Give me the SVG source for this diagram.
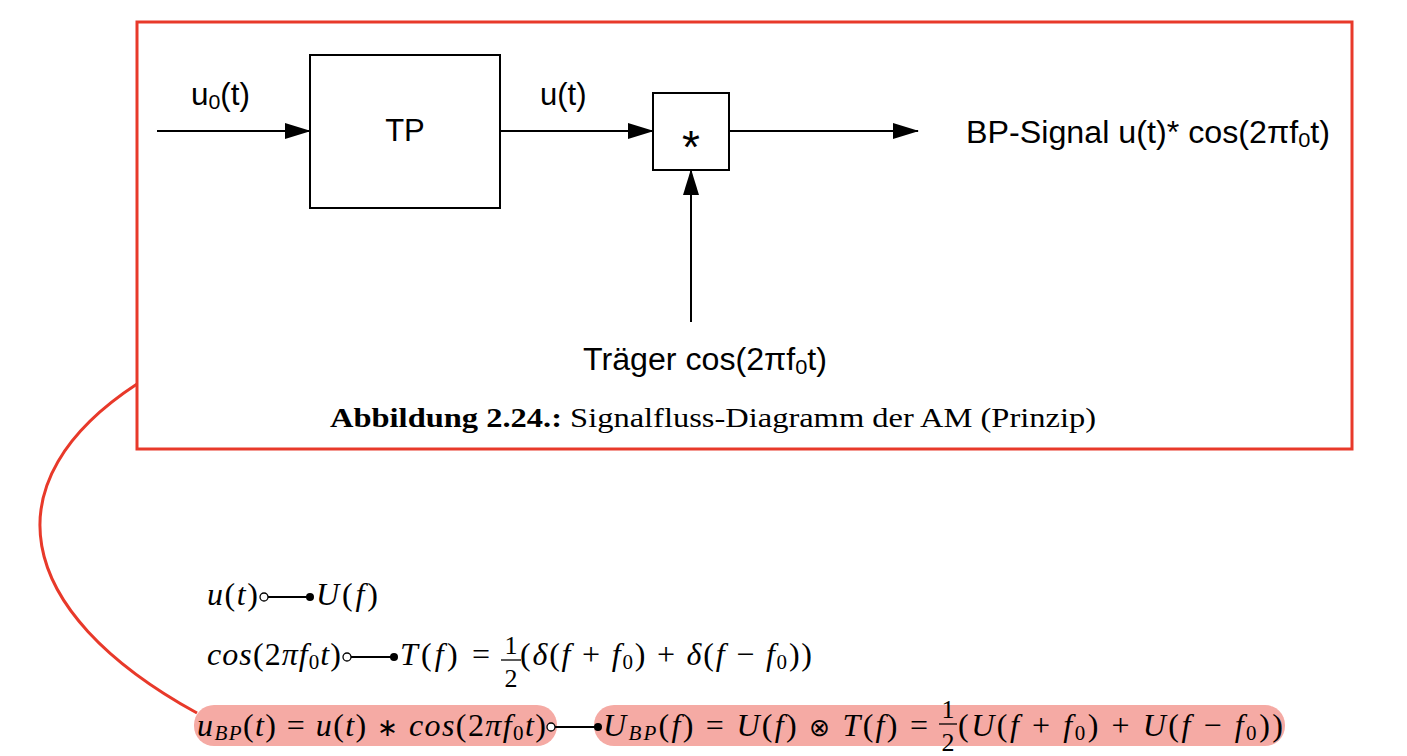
<svg xmlns="http://www.w3.org/2000/svg" width="1407" height="756" viewBox="0 0 1407 756">
<defs>
<marker id="ah" markerWidth="26" markerHeight="16" refX="25" refY="8" orient="auto" markerUnits="userSpaceOnUse">
<path d="M0,0 L26,8 L0,16 Z" fill="#000"/>
</marker>
<style>
.blk{fill:#fff;stroke:#000;stroke-width:2}
.wire{stroke:#000;stroke-width:2;fill:none}
.lab{font-family:"Liberation Sans",Arial,sans-serif;font-size:31px;fill:#000}
.star{font-family:"Liberation Sans",Arial,sans-serif;font-size:46px;fill:#000}
.cap{font-family:"Liberation Serif","Times New Roman",serif;font-size:27px;fill:#000}
.m{font-family:"Liberation Serif","Times New Roman",serif;font-size:32px;fill:#000}
.fr{font-family:"Liberation Serif","Times New Roman",serif;font-size:26px;fill:#000}
.i{font-style:italic}
.sub{font-size:21px}
.op{font-size:25px}
.red{stroke:#e8392a;stroke-width:3;fill:none}
.pill{fill:#f5aaa4}
.oc{fill:#fff;stroke:#000;stroke-width:1.3}
.fc{fill:#000}
</style>
</defs>
<rect width="1407" height="756" fill="#fff"/>
<g id="frame">
<rect x="137" y="22" width="1215" height="427" class="red"/>
</g>
<g id="link">
<path d="M137,384 C-10,480 10,610 197,713" class="red"/>
</g>
<g id="connectors">
<line x1="157" y1="131" x2="310" y2="131" class="wire" marker-end="url(#ah)"/>
<line x1="500" y1="131" x2="653" y2="131" class="wire" marker-end="url(#ah)"/>
<line x1="729" y1="131" x2="918" y2="131" class="wire" marker-end="url(#ah)"/>
<line x1="691" y1="322" x2="691" y2="170" class="wire" marker-end="url(#ah)"/>
</g>
<g id="tp">
<rect x="310" y="55" width="190" height="153" class="blk"/>
<text x="405" y="141" class="lab" text-anchor="middle">TP</text>
</g>
<g id="mult">
<rect x="653" y="93" width="76" height="77" class="blk"/>
<text x="691" y="163" class="star" text-anchor="middle">*</text>
</g>
<g id="labels">
<text x="191" y="105" class="lab" textLength="59" lengthAdjust="spacingAndGlyphs">u<tspan font-size="21" dy="4">0</tspan><tspan dy="-4">(t)</tspan></text>
<text x="540" y="105" class="lab">u(t)</text>
<text x="966" y="143" class="lab" textLength="364" lengthAdjust="spacingAndGlyphs">BP-Signal u(t)* cos(2πf<tspan font-size="21" dy="4">0</tspan><tspan dy="-4">t)</tspan></text>
<text x="583" y="370" class="lab" textLength="244" lengthAdjust="spacingAndGlyphs">Träger cos(2πf<tspan font-size="21" dy="4">0</tspan><tspan dy="-4">t)</tspan></text>
</g>
<g id="caption">
<text x="330" y="427" class="cap" textLength="766" lengthAdjust="spacingAndGlyphs"><tspan font-weight="bold">Abbildung 2.24.:</tspan> Signalfluss-Diagramm der AM (Prinzip)</text>
</g>
<g id="eq1">
<text x="207" y="605" class="m" textLength="51" lengthAdjust="spacing"><tspan class="i">u</tspan>(<tspan class="i">t</tspan>)</text>
<circle cx="264" cy="597" r="4" class="oc"/>
<line x1="268" y1="597" x2="308" y2="597" class="wire"/>
<circle cx="310" cy="597" r="4" class="fc"/>
<text x="316" y="605" class="m" textLength="62" lengthAdjust="spacing"><tspan class="i">U</tspan>(<tspan class="i">f</tspan>)</text>
</g>
<g id="eq2">
<text x="207" y="665" class="m" textLength="134" lengthAdjust="spacing"><tspan class="i">cos</tspan>(2<tspan class="i">πf</tspan><tspan class="sub" dy="4">0</tspan><tspan class="i" dy="-4">t</tspan>)</text>
<circle cx="347" cy="657" r="4" class="oc"/>
<line x1="351" y1="657" x2="392" y2="657" class="wire"/>
<circle cx="394" cy="657" r="4" class="fc"/>
<text x="400" y="665" class="m" textLength="90" lengthAdjust="spacing"><tspan class="i">T</tspan>(<tspan class="i">f</tspan>) =</text>
<text x="511" y="654" class="fr" text-anchor="middle">1</text>
<line x1="501" y1="660" x2="521" y2="660" stroke="#000" stroke-width="1.3"/>
<text x="511" y="687" class="fr" text-anchor="middle">2</text>
<text x="520" y="665" class="m" textLength="292" lengthAdjust="spacing">(<tspan class="i">δ</tspan>(<tspan class="i">f</tspan> + <tspan class="i">f</tspan><tspan class="sub" dy="4">0</tspan><tspan dy="-4">) + </tspan><tspan class="i">δ</tspan>(<tspan class="i">f</tspan> − <tspan class="i">f</tspan><tspan class="sub" dy="4">0</tspan><tspan dy="-4">))</tspan></text>
</g>
<g id="eq3">
<rect x="194" y="705" width="363" height="41" rx="20" class="pill"/>
<rect x="594" y="705" width="691" height="41" rx="20" class="pill"/>
<text x="197" y="736" class="m" textLength="349" lengthAdjust="spacing"><tspan class="i">u</tspan><tspan class="i sub" dy="4">BP</tspan><tspan dy="-4">(</tspan><tspan class="i">t</tspan>) = <tspan class="i">u</tspan>(<tspan class="i">t</tspan>) <tspan class="op">∗</tspan> <tspan class="i">cos</tspan>(2<tspan class="i">πf</tspan><tspan class="sub" dy="4">0</tspan><tspan class="i" dy="-4">t</tspan>)</text>
<circle cx="551" cy="727" r="4" class="oc"/>
<line x1="555" y1="727" x2="596" y2="727" class="wire"/>
<circle cx="598" cy="727" r="4" class="fc"/>
<text x="603" y="736" class="m" textLength="325" lengthAdjust="spacing"><tspan class="i">U</tspan><tspan class="i sub" dy="4">BP</tspan><tspan dy="-4">(</tspan><tspan class="i">f</tspan>) = <tspan class="i">U</tspan>(<tspan class="i">f</tspan>) <tspan class="op">⊗</tspan> <tspan class="i">T</tspan>(<tspan class="i">f</tspan>) =</text>
<text x="948" y="718" class="fr" text-anchor="middle">1</text>
<line x1="939" y1="724" x2="957" y2="724" stroke="#000" stroke-width="1.3"/>
<text x="948" y="751" class="fr" text-anchor="middle">2</text>
<text x="958" y="736" class="m" textLength="325" lengthAdjust="spacing">(<tspan class="i">U</tspan>(<tspan class="i">f</tspan> + <tspan class="i">f</tspan><tspan class="sub" dy="4">0</tspan><tspan dy="-4">) + </tspan><tspan class="i">U</tspan>(<tspan class="i">f</tspan> − <tspan class="i">f</tspan><tspan class="sub" dy="4">0</tspan><tspan dy="-4">))</tspan></text>
</g>
</svg>
